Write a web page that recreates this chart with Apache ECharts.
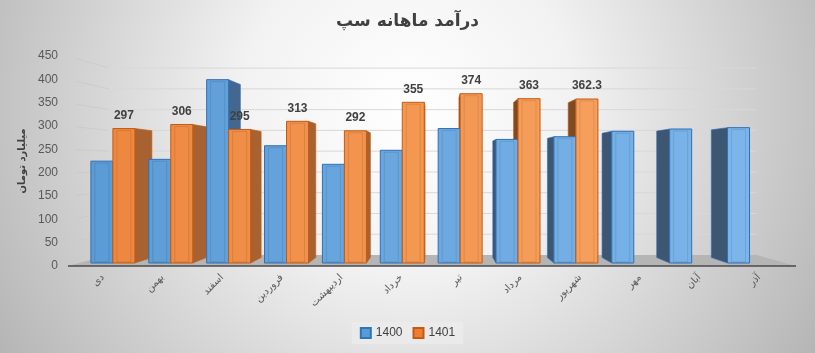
<!DOCTYPE html>
<html><head><meta charset="utf-8">
<script src="https://cdn.jsdelivr.net/npm/echarts@6/dist/echarts.min.js"></script>
<style>html,body{margin:0;padding:0;}#c{width:815px;height:353px;}</style>
</head><body><div id="c"></div>
<script>
const categories = ['دی','بهمن','اسفند','فروردین','اردیبهشت','خرداد','تیر','مرداد','شهریور','مهر','آبان','آذر'];
const values1400 = [225, 229, 405, 259, 218, 249, 297, 273, 279, 291, 296, 299];
const values1401 = [297, 306, 295, 313, 292, 355, 374, 363, 362.3, null, null, null];
const yTicks = [0, 50, 100, 150, 200, 250, 300, 350, 400, 450];
const seriesNames = ['1400', '1401'];
const titleText = 'درآمد ماهانه سپ';
const yName = 'میلیارد تومان';

const T_FRONT = 0.03, T_DEPTH = 0.056, T_WALL = 0.11;
const colors = {
  blue: {front0:[91,155,213], front1:[126,183,236], border:'#2e6fb8', side:'#43678f', sideR:'#3d5672', top:'#9cc5ec'},
  orange: {front0:[237,134,62], front1:[250,170,104], border:'#c55a11', side:'#a86232', sideR:'#7e4a22', top:'#f9bb88'}
};
function vpOf(cs){ return [cs.x + cs.width*0.51, cs.y + cs.height*0.524]; }
function proj(p, vp, t){ return [p[0] + (vp[0]-p[0])*t, p[1] + (vp[1]-p[1])*t]; }
function lerpColor(a,b,f){ return 'rgb(' + a.map((v,i)=>Math.round(v+(b[i]-v)*f)).join(',') + ')'; }

function barRender(sIdx){
  return function(params, api){
    const i = api.value(0), v = api.value(1);
    const cs = params.coordSys;
    const vp = vpOf(cs);
    const c = api.coord([i, v]);
    const base = api.coord([i, 0]);
    const bw = api.size([1, 0])[0];
    const w = bw*0.38;
    const x0 = sIdx === 0 ? c[0]-w : c[0];
    const x1 = x0 + w;
    const pts = [[x0,c[1]],[x1,c[1]],[x1,base[1]],[x0,base[1]]];
    const f = pts.map(p=>proj(p, vp, T_FRONT));
    const tb = T_FRONT + T_DEPTH*(1-T_FRONT);
    const b = pts.map(p=>proj(p, vp, tb));
    const col = sIdx === 0 ? colors.blue : colors.orange;
    const frac = Math.min(1, Math.max(0, (f[0][0]-cs.x)/cs.width));
    const children = [];
    if (f[1][0] < vp[0]) {
      children.push({type:'polygon', z2:1, shape:{points:[f[1],b[1],b[2],f[2]]}, style:{fill:col.side, stroke:col.border, lineWidth:0.6}});
    }
    if (f[0][0] > vp[0]) {
      children.push({type:'polygon', z2:1, shape:{points:[f[0],b[0],b[3],f[3]]}, style:{fill:col.sideR, stroke:col.border, lineWidth:0.6}});
    }
    if (f[0][1] > vp[1]) {
      children.push({type:'polygon', z2:1, shape:{points:[f[0],f[1],b[1],b[0]]}, style:{fill:col.top, stroke:col.border, lineWidth:0.6}});
    }
    const fw = f[1][0]-f[0][0], fh = f[3][1]-f[0][1];
    children.push({type:'rect', z2:10, shape:{x:f[0][0], y:f[0][1], width:fw, height:fh},
      style:{fill:lerpColor(col.front0, col.front1, frac), stroke:col.border, lineWidth:1}});
    children.push({type:'rect', z2:11, shape:{x:f[0][0]+4, y:f[0][1]+2, width:fw-8, height:fh-3},
      style:{fill:'none', stroke:'rgba(0,0,0,0.10)', lineWidth:1}});
    if (sIdx === 1) {
      children.push({type:'text', z2:20, x:(f[0][0]+f[1][0])/2, y:f[0][1]-13,
        style:{text:String(v), fill:'#404040', font:'bold 12px "Liberation Sans", Arial, sans-serif', align:'center', verticalAlign:'middle'}});
    }
    return {type:'group', children};
  };
}

function frameRender(params, api){
  const cs = params.coordSys;
  const vp = vpOf(cs);
  const v = api.value(1);
  const y = api.coord([0, v])[1];
  const L = cs.x - 5, R = cs.x + cs.width + 7;
  const bl = proj([L, y], vp, T_WALL), br = proj([R, y], vp, T_WALL);
  const children = [];
  if (v === 0) {
    children.push({type:'polygon', z2:0, shape:{points:[[L,y],[R,y],br,bl]}, style:{fill:'#b5b5b5'}});
    children.push({type:'line', z2:2, shape:{x1:L, y1:y, x2:R, y2:y}, style:{stroke:'#4a4a4a', lineWidth:1.5}});
  } else {
    children.push({type:'line', z2:0, shape:{x1:bl[0], y1:bl[1], x2:br[0], y2:br[1]}, style:{stroke:'#d8d8d8', lineWidth:1}});
    children.push({type:'line', z2:0, shape:{x1:L+8, y1:y+(bl[1]-y)*0.2, x2:bl[0], y2:bl[1]}, style:{stroke:'rgba(200,200,200,0.7)', lineWidth:1}});
  }
  return {type:'group', children};
}

const chart = echarts.init(document.getElementById('c'));
chart.setOption({
  backgroundColor: {type:'radial', x:0.5, y:0.3, r:1.35, colorStops:[
    {offset:0, color:'#ffffff'}, {offset:0.35, color:'#f2f2f2'}, {offset:1, color:'#b5b5b5'}]},
  title: {text:titleText, left:'center', top:8,
    textStyle:{fontFamily:'"DejaVu Sans"', fontWeight:'bold', fontSize:17, color:'#404040'}},
  legend: {data:seriesNames, bottom:9, left:'center', itemWidth:10, itemHeight:10, itemGap:10,
    icon:'rect', padding:[5,8], backgroundColor:'rgba(236,236,236,0.7)',
    textStyle:{fontFamily:'"Liberation Sans"', fontSize:12, color:'#404040'}},
  grid: {left:73, right:26, top:56, bottom:87},
  xAxis: {type:'category', data:categories,
    axisLine:{show:false}, axisTick:{show:false},
    axisLabel:{rotate:45, margin:10, fontSize:10, color:'#595959', fontFamily:'"DejaVu Sans"', interval:0}},
  yAxis: {type:'value', min:0, max:450, interval:50,
    name:yName, nameLocation:'middle', nameGap:40,
    nameTextStyle:{fontFamily:'"DejaVu Sans"', fontWeight:'bold', fontSize:10, color:'#404040'},
    axisLine:{show:false}, axisTick:{show:false}, splitLine:{show:false},
    axisLabel:{fontSize:12, color:'#595959', fontFamily:'"Liberation Sans"', margin:15}},
  series: [
    {type:'custom', name:'frame', silent:true, z:1, renderItem:frameRender,
      data:yTicks.map(v=>[0, v]), encode:{x:0, y:1}},
    {type:'custom', name:seriesNames[0], z:2, renderItem:barRender(0),
      itemStyle:{color:'#5b9bd5', borderColor:'#2e75b6', borderWidth:1},
      data:values1400.map((v,i)=>[i, v]), encode:{x:0, y:1}},
    {type:'custom', name:seriesNames[1], z:2, renderItem:barRender(1),
      itemStyle:{color:'#ed7d31', borderColor:'#c55a11', borderWidth:1},
      data:values1401.map((v,i)=>v==null?null:[i, v]).filter(Boolean), encode:{x:0, y:1}}
  ]
});
</script></body></html>
